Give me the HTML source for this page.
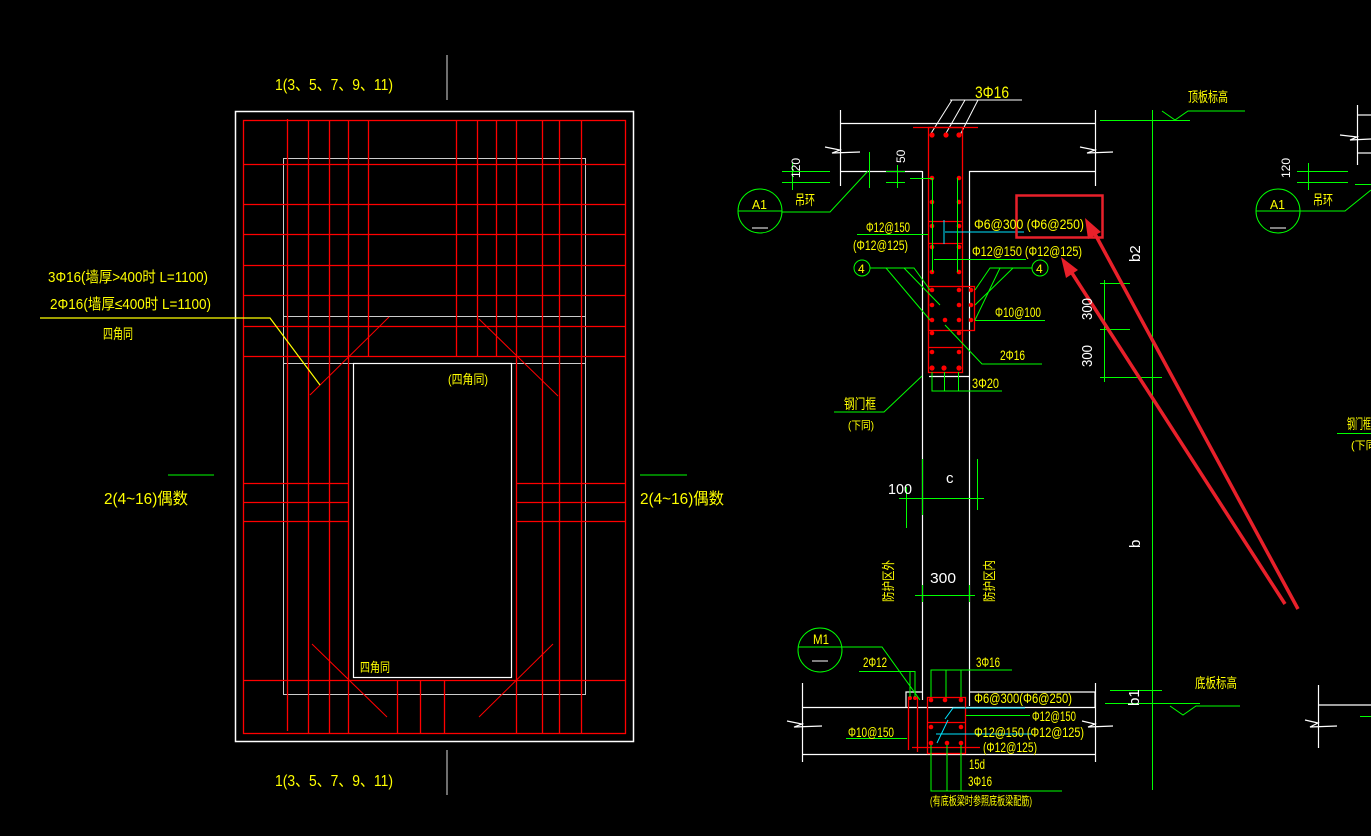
<!DOCTYPE html>
<html><head><meta charset="utf-8"><style>
html,body{margin:0;padding:0;background:#000;width:1371px;height:836px;overflow:hidden}
svg text{font-family:"Liberation Sans","Noto Sans CJK SC",sans-serif;fill:#ffff00}
</style></head><body>
<svg width="1371" height="836" viewBox="0 0 1371 836" xmlns="http://www.w3.org/2000/svg">
<rect width="1371" height="836" fill="#000"/>
<!-- LEFT PLAN -->
<g fill="none">
<rect x="235.5" y="111.5" width="398" height="630" stroke="#fff" stroke-width="1.5"/>
<rect x="283.5" y="158.5" width="302" height="536" stroke="#ccc"/>
<line x1="283" y1="316.5" x2="585" y2="316.5" stroke="#ccc"/>
<line x1="283" y1="363.5" x2="585" y2="363.5" stroke="#ccc"/>
<rect x="353.5" y="363.5" width="158" height="314" stroke="#fff" stroke-width="1.2"/>
<g stroke="#ff0000" stroke-width="1.3">
<rect x="243.5" y="120.5" width="382" height="613"/>
<line x1="287.5" y1="119" x2="287.5" y2="731"/>
<line x1="308.5" y1="120" x2="308.5" y2="733"/>
<line x1="329.5" y1="120" x2="329.5" y2="733"/>
<line x1="348.5" y1="120" x2="348.5" y2="733"/>
<line x1="516.5" y1="120" x2="516.5" y2="733"/>
<line x1="542.5" y1="120" x2="542.5" y2="733"/>
<line x1="559.5" y1="120" x2="559.5" y2="733"/>
<line x1="581.5" y1="120" x2="581.5" y2="733"/>
<line x1="368.5" y1="120" x2="368.5" y2="356"/>
<line x1="456.5" y1="120" x2="456.5" y2="356"/>
<line x1="477.5" y1="120" x2="477.5" y2="356"/>
<line x1="496.5" y1="120" x2="496.5" y2="356"/>
<line x1="243" y1="164.5" x2="625" y2="164.5"/>
<line x1="243" y1="204.5" x2="625" y2="204.5"/>
<line x1="243" y1="234.5" x2="625" y2="234.5"/>
<line x1="243" y1="265.5" x2="625" y2="265.5"/>
<line x1="243" y1="295.5" x2="625" y2="295.5"/>
<line x1="243" y1="326.5" x2="625" y2="326.5"/>
<line x1="243" y1="356.5" x2="625" y2="356.5"/>
<line x1="243" y1="483.5" x2="348" y2="483.5"/>
<line x1="243" y1="502.5" x2="348" y2="502.5"/>
<line x1="243" y1="521.5" x2="348" y2="521.5"/>
<line x1="516" y1="483.5" x2="625" y2="483.5"/>
<line x1="516" y1="502.5" x2="625" y2="502.5"/>
<line x1="516" y1="521.5" x2="625" y2="521.5"/>
<line x1="243" y1="680.5" x2="625" y2="680.5"/>
<line x1="397.5" y1="680" x2="397.5" y2="733"/>
<line x1="420.5" y1="680" x2="420.5" y2="733"/>
<line x1="444.5" y1="680" x2="444.5" y2="733"/>
</g>
<g stroke="#ff0000" stroke-width="1">
<line x1="310" y1="395" x2="389" y2="317"/>
<line x1="479" y1="319" x2="558" y2="396"/>
<line x1="312" y1="644" x2="387" y2="717"/>
<line x1="479" y1="717" x2="553" y2="644"/>
</g>
<g stroke="#ddd"><line x1="447" y1="55" x2="447" y2="100"/><line x1="447" y1="750" x2="447" y2="795"/></g>
<g stroke="#00ff00"><line x1="168" y1="475" x2="214" y2="475"/><line x1="640" y1="475" x2="687" y2="475"/></g>
<polyline points="40,318 270,318 320,385" stroke="#ffff00" stroke-width="1.2"/>
</g>
<text x="275" y="90" font-size="16" textLength="118" lengthAdjust="spacingAndGlyphs">1(3、5、7、9、11)</text>
<text x="275" y="786" font-size="16" textLength="118" lengthAdjust="spacingAndGlyphs">1(3、5、7、9、11)</text>
<text x="104" y="504" font-size="16" textLength="84" lengthAdjust="spacingAndGlyphs">2(4~16)偶数</text>
<text x="640" y="504" font-size="16" textLength="84" lengthAdjust="spacingAndGlyphs">2(4~16)偶数</text>
<text x="48" y="282" font-size="15" textLength="160" lengthAdjust="spacingAndGlyphs">3Φ16(墙厚&gt;400时 L=1100)</text>
<text x="50" y="309" font-size="15" textLength="161" lengthAdjust="spacingAndGlyphs">2Φ16(墙厚≤400时 L=1100)</text>
<text x="103" y="339" font-size="14" textLength="30" lengthAdjust="spacingAndGlyphs">四角同</text>
<text x="448" y="384" font-size="13" textLength="40" lengthAdjust="spacingAndGlyphs">(四角同)</text>
<text x="360" y="672" font-size="13" textLength="30" lengthAdjust="spacingAndGlyphs">四角同</text>

<!-- RIGHT SECTION -->
<g fill="none" stroke="#fff" stroke-width="1.2">
<line x1="840" y1="123.5" x2="1095" y2="123.5"/>
<line x1="840.5" y1="110" x2="840.5" y2="186"/>
<line x1="1095.5" y1="110" x2="1095.5" y2="186"/>
<polyline points="825,147 840,150 832,153 860,152"/>
<polyline points="1080,147 1095,150 1087,153 1113,152"/>
<line x1="840" y1="171.5" x2="922" y2="171.5"/>
<line x1="969" y1="171.5" x2="1095" y2="171.5"/>
<line x1="922.5" y1="171" x2="922.5" y2="700"/>
<line x1="969.5" y1="171" x2="969.5" y2="706"/>
<line x1="929" y1="376.5" x2="969" y2="376.5"/>
<line x1="802" y1="707.5" x2="1095" y2="707.5"/>
<line x1="802" y1="754.5" x2="1095" y2="754.5"/>
<line x1="802.5" y1="683" x2="802.5" y2="762"/>
<line x1="1095.5" y1="683" x2="1095.5" y2="762"/>
<polyline points="787,721 802,724 794,727 822,726"/>
<polyline points="1082,721 1095,724 1088,727 1113,726"/>
<polyline points="906,707 906,692 922,692"/>
<polyline points="969,692 1095,692 1095,707"/>
<line x1="1357.5" y1="105" x2="1357.5" y2="165"/><line x1="1357" y1="115" x2="1371" y2="115"/><line x1="1357" y1="153" x2="1371" y2="153"/>
<polyline points="1340,135 1357,137 1350,140 1371,139"/>
<line x1="1318.5" y1="685" x2="1318.5" y2="748"/><line x1="1318" y1="705" x2="1371" y2="705"/>
<polyline points="1305,720 1318,723 1310,727 1337,726"/>
<line x1="952" y1="100" x2="930" y2="135" stroke-width="1"/><line x1="965" y1="100" x2="945" y2="135" stroke-width="1"/><line x1="978" y1="100" x2="960" y2="135" stroke-width="1"/>
<line x1="950" y1="100" x2="1022" y2="100" stroke-width="1"/>
</g>
<!-- red column -->
<g fill="none" stroke="#ff0000" stroke-width="1.3">
<line x1="913" y1="127.5" x2="978" y2="127.5"/>
<rect x="928.5" y="127.5" width="34" height="245"/>
<rect x="928.5" y="286.5" width="46" height="44"/>
<line x1="929" y1="221.5" x2="962" y2="221.5"/><line x1="929" y1="243.5" x2="962" y2="243.5"/>
<line x1="929" y1="347.5" x2="962" y2="347.5"/>
<rect x="927.5" y="697.5" width="38" height="56"/>
<line x1="928" y1="722.5" x2="965" y2="722.5"/>
<line x1="908.5" y1="697" x2="908.5" y2="750"/><line x1="917.5" y1="697" x2="917.5" y2="752"/>
<line x1="912" y1="747.5" x2="980" y2="747.5"/>
</g>
<g fill="#ff0000">
<circle cx="932" cy="135" r="2.6"/><circle cx="946" cy="135" r="2.6"/><circle cx="959" cy="135" r="2.6"/>
<circle cx="932" cy="178" r="2.3"/><circle cx="959" cy="178" r="2.3"/>
<circle cx="932" cy="202" r="2.3"/><circle cx="959" cy="202" r="2.3"/>
<circle cx="932" cy="226" r="2.3"/><circle cx="959" cy="226" r="2.3"/>
<circle cx="932" cy="247" r="2.3"/><circle cx="959" cy="247" r="2.3"/>
<circle cx="932" cy="272" r="2.3"/><circle cx="959" cy="272" r="2.3"/>
<circle cx="932" cy="290" r="2.3"/><circle cx="959" cy="290" r="2.3"/><circle cx="971" cy="290" r="2.3"/>
<circle cx="932" cy="305" r="2.3"/><circle cx="959" cy="305" r="2.3"/><circle cx="971" cy="305" r="2.3"/>
<circle cx="932" cy="320" r="2.3"/><circle cx="945" cy="320" r="2.3"/><circle cx="959" cy="320" r="2.3"/><circle cx="971" cy="320" r="2.3"/>
<circle cx="932" cy="333" r="2.3"/><circle cx="959" cy="333" r="2.3"/>
<circle cx="932" cy="352" r="2.3"/><circle cx="959" cy="352" r="2.3"/>
<circle cx="932" cy="368" r="2.6"/><circle cx="944" cy="368" r="2.6"/><circle cx="959" cy="368" r="2.6"/>
<circle cx="931" cy="700" r="2.3"/><circle cx="945" cy="700" r="2.3"/><circle cx="961" cy="700" r="2.3"/>
<circle cx="931" cy="727" r="2.3"/><circle cx="961" cy="727" r="2.3"/>
<circle cx="931" cy="743" r="2.3"/><circle cx="947" cy="743" r="2.3"/><circle cx="961" cy="743" r="2.3"/>
<circle cx="910" cy="698" r="2"/><circle cx="915" cy="698" r="2"/>
</g>
<!-- cyan -->
<g fill="none" stroke="#00e5ff" stroke-width="1">
<line x1="945" y1="232" x2="1024" y2="232"/><line x1="944" y1="220" x2="944" y2="244"/>
<polyline points="945,719 953,708 1025,708"/><polyline points="948,720 937,743"/>
<line x1="936" y1="734" x2="1032" y2="734"/>
</g>
<!-- green -->
<g fill="none" stroke="#00ff00" stroke-width="1">
<line x1="1152.5" y1="110" x2="1152.5" y2="790"/>
<line x1="1100" y1="120.5" x2="1190" y2="120.5"/>
<polyline points="1162,111 1175,120 1188,111 1245,111"/>
<line x1="1100" y1="377.5" x2="1162" y2="377.5"/>
<line x1="1104.5" y1="280" x2="1104.5" y2="382"/>
<line x1="1100" y1="283.5" x2="1130" y2="283.5"/><line x1="1100" y1="329.5" x2="1130" y2="329.5"/>
<line x1="1110" y1="690.5" x2="1162" y2="690.5"/>
<line x1="1105" y1="703.5" x2="1200" y2="703.5"/>
<polyline points="1170,706 1183,715 1196,706 1240,706"/>
<line x1="782" y1="171.5" x2="830" y2="171.5"/><line x1="782" y1="182.5" x2="830" y2="182.5"/><line x1="792.5" y1="163" x2="792.5" y2="190"/>
<circle cx="760" cy="211" r="22"/><line x1="738" y1="211" x2="782" y2="211"/>
<polyline points="782,212 830,212 868,171"/>
<line x1="869.5" y1="152" x2="869.5" y2="188"/>
<line x1="886" y1="171.5" x2="905" y2="171.5"/><line x1="886" y1="182.5" x2="905" y2="182.5"/><line x1="897.5" y1="165" x2="897.5" y2="188"/>
<line x1="910" y1="178.5" x2="932" y2="178.5"/>
<line x1="932.5" y1="178" x2="932.5" y2="272"/>
<line x1="957.5" y1="178" x2="957.5" y2="272"/>
<line x1="857" y1="234.5" x2="928" y2="234.5"/>
<line x1="934" y1="259.5" x2="1026" y2="259.5"/>
<circle cx="862" cy="268" r="8"/><circle cx="1040" cy="268" r="8"/>
<polyline points="870,268 914,268 930,290"/><line x1="886" y1="268" x2="930" y2="320"/><line x1="904" y1="268" x2="940" y2="305"/>
<polyline points="1032,268 990,268 975,290"/><line x1="1013" y1="268" x2="975" y2="305"/><line x1="1000" y1="268" x2="975" y2="320"/>
<line x1="975" y1="320.5" x2="1045" y2="320.5"/>
<polyline points="945,325 982,364 1042,364"/>
<polyline points="932,372 932,391 1002,391"/><line x1="944.5" y1="372" x2="944.5" y2="391"/><line x1="958.5" y1="372" x2="958.5" y2="391"/>
<polyline points="834,412 884,412 922,376"/>
<line x1="922.5" y1="459" x2="922.5" y2="515"/><line x1="906.5" y1="487" x2="906.5" y2="528"/><line x1="977.5" y1="459" x2="977.5" y2="510"/>
<line x1="899" y1="498.5" x2="984" y2="498.5"/>
<line x1="915" y1="595.5" x2="975" y2="595.5"/><line x1="922.5" y1="585" x2="922.5" y2="602"/><line x1="969.5" y1="585" x2="969.5" y2="602"/>
<circle cx="820" cy="650" r="22"/><polyline points="798,647 882,647 920,700"/>
<line x1="859" y1="671.5" x2="915" y2="671.5"/><line x1="910" y1="671" x2="910" y2="697"/><line x1="915" y1="671" x2="915" y2="697"/>
<polyline points="931,697 931,670 1012,670"/><line x1="946" y1="670" x2="946" y2="697"/><line x1="961" y1="670" x2="961" y2="697"/>
<line x1="846" y1="738.5" x2="907" y2="738.5"/>
<line x1="966" y1="715.5" x2="1030" y2="715.5"/>
<polyline points="931,745 931,791 1062,791"/><line x1="947" y1="745" x2="947" y2="791"/><line x1="961" y1="745" x2="961" y2="791"/>
<circle cx="1278" cy="211" r="22"/><polyline points="1256,211 1345,211 1371,190"/>
<line x1="1297" y1="171.5" x2="1348" y2="171.5"/><line x1="1297" y1="182.5" x2="1348" y2="182.5"/><line x1="1308.5" y1="163" x2="1308.5" y2="190"/>
<line x1="1337" y1="433.5" x2="1371" y2="433.5"/>
<line x1="1355" y1="184.5" x2="1371" y2="184.5"/><line x1="1360" y1="716.5" x2="1371" y2="716.5"/>
</g>
<line x1="812" y1="661" x2="828" y2="661" stroke="#fff"/><line x1="752" y1="228" x2="768" y2="228" stroke="#fff"/><line x1="1270" y1="228" x2="1286" y2="228" stroke="#fff"/>
<!-- highlight box & arrows -->
<rect x="1016.5" y="195.5" width="86" height="42" fill="none" stroke="#e8202a" stroke-width="2.5"/>
<g stroke="#e8202a" stroke-width="3.5"><line x1="1298" y1="609" x2="1095" y2="234"/><line x1="1285" y1="604" x2="1070" y2="270"/></g>
<g fill="#e8202a">
<polygon points="1085,218 1101,232 1088,239"/>
<polygon points="1061,257 1078,270 1066,278"/>
</g>
<!-- texts right -->
<g font-size="14">
<text x="975" y="98" font-size="17" textLength="34" lengthAdjust="spacingAndGlyphs">3Φ16</text>
<text x="1188" y="102" textLength="40" lengthAdjust="spacingAndGlyphs">顶板标高</text>
<text x="795" y="205" textLength="20" lengthAdjust="spacingAndGlyphs">吊环</text>
<text x="752" y="209" font-size="13" textLength="15" lengthAdjust="spacingAndGlyphs">A1</text>
<text x="1270" y="209" font-size="13" textLength="15" lengthAdjust="spacingAndGlyphs">A1</text>
<text x="1313" y="205" textLength="20" lengthAdjust="spacingAndGlyphs">吊环</text>
<text x="866" y="232" textLength="44" lengthAdjust="spacingAndGlyphs">Φ12@150</text>
<text x="853" y="250" textLength="55" lengthAdjust="spacingAndGlyphs">(Φ12@125)</text>
<text x="974" y="229" textLength="110" lengthAdjust="spacingAndGlyphs">Φ6@300 (Φ6@250)</text>
<text x="972" y="256" textLength="110" lengthAdjust="spacingAndGlyphs">Φ12@150 (Φ12@125)</text>
<text x="858" y="273" font-size="12">4</text><text x="1036" y="273" font-size="12">4</text>
<text x="995" y="317" textLength="46" lengthAdjust="spacingAndGlyphs">Φ10@100</text>
<text x="1000" y="360" textLength="25" lengthAdjust="spacingAndGlyphs">2Φ16</text>
<text x="972" y="388" textLength="27" lengthAdjust="spacingAndGlyphs">3Φ20</text>
<text x="844" y="409" textLength="32" lengthAdjust="spacingAndGlyphs">钢门框</text>
<text x="848" y="429" font-size="11" textLength="26" lengthAdjust="spacingAndGlyphs">(下同)</text>
<text x="1347" y="429" textLength="24" lengthAdjust="spacingAndGlyphs">钢门框</text>
<text x="1351" y="449" font-size="11">(下同</text>
<text x="1195" y="688" textLength="42" lengthAdjust="spacingAndGlyphs">底板标高</text>
<text x="863" y="667" textLength="24" lengthAdjust="spacingAndGlyphs">2Φ12</text>
<text x="976" y="667" textLength="24" lengthAdjust="spacingAndGlyphs">3Φ16</text>
<text x="974" y="703" textLength="98" lengthAdjust="spacingAndGlyphs">Φ6@300(Φ6@250)</text>
<text x="1032" y="721" textLength="44" lengthAdjust="spacingAndGlyphs">Φ12@150</text>
<text x="848" y="737" textLength="46" lengthAdjust="spacingAndGlyphs">Φ10@150</text>
<text x="974" y="737" textLength="110" lengthAdjust="spacingAndGlyphs">Φ12@150 (Φ12@125)</text>
<text x="983" y="752" textLength="54" lengthAdjust="spacingAndGlyphs">(Φ12@125)</text>
<text x="969" y="769" textLength="16" lengthAdjust="spacingAndGlyphs">15d</text>
<text x="968" y="786" textLength="24" lengthAdjust="spacingAndGlyphs">3Φ16</text>
<text x="930" y="805" font-size="12" textLength="102" lengthAdjust="spacingAndGlyphs">(有底板梁时参照底板梁配筋)</text>
<text x="813" y="644" font-size="14" textLength="16" lengthAdjust="spacingAndGlyphs">M1</text>
</g>
<g font-size="15">
<text x="888" y="494" style="fill:#fff" textLength="24" lengthAdjust="spacingAndGlyphs">100</text>
<text x="946" y="483" style="fill:#fff">c</text>
<text x="930" y="583" style="fill:#fff" textLength="26" lengthAdjust="spacingAndGlyphs">300</text>
<text transform="translate(1140,548) rotate(-90)" style="fill:#fff">b</text>
<text transform="translate(1140,262) rotate(-90)" style="fill:#fff">b2</text>
<text transform="translate(1139,706) rotate(-90)" style="fill:#fff">b1</text>
<text transform="translate(1092,320) rotate(-90)" style="fill:#fff" textLength="22" lengthAdjust="spacingAndGlyphs">300</text>
<text transform="translate(1092,367) rotate(-90)" style="fill:#fff" textLength="22" lengthAdjust="spacingAndGlyphs">300</text>
<text transform="translate(800,178) rotate(-90)" style="fill:#fff" font-size="12">120</text>
<text transform="translate(1290,178) rotate(-90)" style="fill:#fff" font-size="12">120</text>
<text transform="translate(905,163) rotate(-90)" style="fill:#fff" font-size="12">50</text>
</g>
<g font-size="13">
<text transform="translate(893,602) rotate(-90)" textLength="42" lengthAdjust="spacingAndGlyphs">防护区外</text>
<text transform="translate(994,602) rotate(-90)" textLength="42" lengthAdjust="spacingAndGlyphs">防护区内</text>
</g>
</svg>
</body></html>
